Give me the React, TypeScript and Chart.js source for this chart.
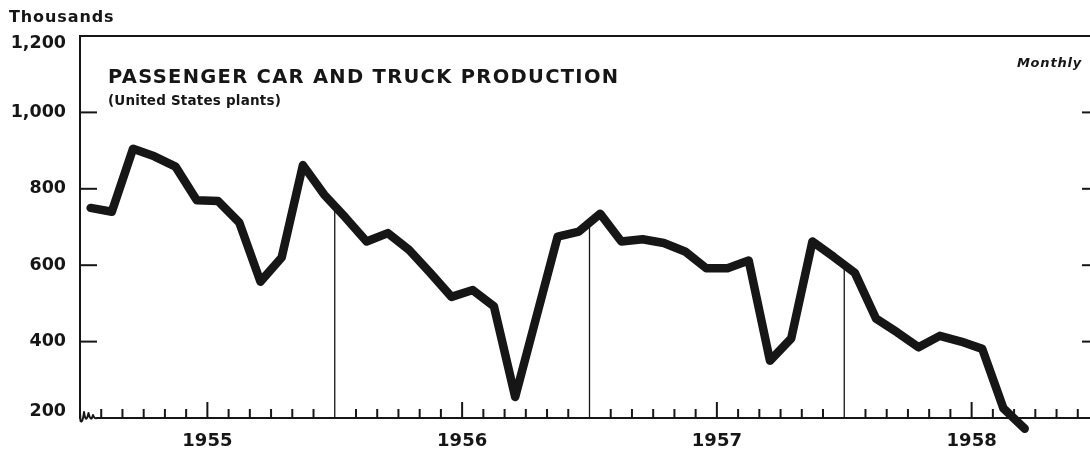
import React, { useEffect, useRef } from "react";
import { Chart, registerables } from "chart.js";

Chart.register(...registerables);

// ---- data (thousands of units, monthly, U.S. plants) ----
const years = ["1955", "1956", "1957", "1958"];
const values1955 = [750, 740, 905, 885, 858, 770, 768, 712, 557, 620, 862, 785];
const values1956 = [725, 662, 684, 640, 580, 517, 535, 492, 255, 465, 675, 688];
const values1957 = [735, 662, 668, 658, 636, 592, 592, 612, 350, 408, 662, 622];
const values1958 = [580, 460, 424, 385, 415, 400, 381, 225, 172];
const yTickValues = [200, 400, 600, 800, 1000, 1200];
const yTickLabels = ["200", "400", "600", "800", "1,000", "1,200"];
const innerTickValues = [400, 600, 800, 1000];
const monthsPerYear = 12;

const INK = "#161616";
const FONT = "'DejaVu Sans', sans-serif";

const series = [...values1955, ...values1956, ...values1957, ...values1958];
const points = series.map((v, i) => ({ x: i + 0.5, y: v }));
const totalMonths = years.length * monthsPerYear;

const decorPlugin = {
  id: "decor",
  beforeDatasetsDraw(chart: any) {
    const { ctx, chartArea: a, scales } = chart;
    const xs = scales.x;
    const ys = scales.y;
    const seg = (x1: number, y1: number, x2: number, y2: number) => {
      ctx.beginPath();
      ctx.moveTo(x1, y1);
      ctx.lineTo(x2, y2);
      ctx.stroke();
    };
    ctx.save();
    ctx.strokeStyle = INK;
    ctx.lineCap = "butt";
    ctx.lineWidth = 2;
    // top frame line
    seg(a.left - 1, a.top, a.right, a.top);
    // baseline (after the scale break)
    seg(a.left + 16, a.bottom, a.right, a.bottom);
    // scale-break squiggle
    ctx.lineJoin = "round";
    ctx.lineCap = "round";
    ctx.beginPath();
    ctx.moveTo(a.left, a.bottom - 6);
    ctx.lineTo(a.left + 0.5, a.bottom + 3);
    ctx.quadraticCurveTo(a.left + 2.5, a.bottom + 6, a.left + 4, a.bottom - 6);
    ctx.quadraticCurveTo(a.left + 6, a.bottom + 7, a.left + 8.5, a.bottom - 5);
    ctx.quadraticCurveTo(a.left + 11, a.bottom + 5, a.left + 13, a.bottom - 3);
    ctx.quadraticCurveTo(a.left + 14.5, a.bottom + 1, a.left + 16.5, a.bottom);
    ctx.stroke();
    ctx.lineCap = "butt";
    // month ticks
    for (let k = 1; k < totalMonths; k++) {
      if (k % monthsPerYear === 0) continue;
      const x = xs.getPixelForValue(k);
      const h = k % monthsPerYear === 6 ? 16 : 9;
      seg(x, a.bottom, x, a.bottom - h);
    }
    // inner y ticks on both sides
    for (const v of innerTickValues) {
      const y = ys.getPixelForValue(v);
      seg(a.left, y, a.left + 17, y);
      seg(a.right - 17, y, a.right, y);
    }
    // year-end lines up to the curve
    const meta = chart.getDatasetMeta(0);
    ctx.lineWidth = 1.3;
    for (let k = monthsPerYear; k < series.length; k += monthsPerYear) {
      const p0 = meta.data[k - 1];
      const p1 = meta.data[k];
      if (!p0 || !p1) continue;
      const x = xs.getPixelForValue(k);
      const t = (x - p0.x) / (p1.x - p0.x);
      const y = p0.y + t * (p1.y - p0.y);
      seg(x, a.bottom, x, y);
    }
    ctx.restore();
  },
};

export default function App() {
  const ref = useRef<HTMLCanvasElement | null>(null);

  useEffect(() => {
    if (!ref.current) return;
    const chart = new Chart(ref.current, {
      type: "line",
      data: {
        datasets: [
          {
            data: points,
            borderColor: INK,
            borderWidth: 8.5,
            borderJoinStyle: "round",
            borderCapStyle: "round",
            pointRadius: 0,
            tension: 0,
            clip: false,
            fill: false,
          },
        ],
      },
      options: {
        animation: false,
        responsive: false,
        devicePixelRatio: 1,
        layout: { padding: { top: 36, right: 11, bottom: 0, left: 0 } },
        plugins: { legend: { display: false }, tooltip: { enabled: false }, title: { display: false } },
        scales: {
          x: {
            type: "linear",
            min: 0,
            max: totalMonths,
            grid: { display: false, drawTicks: false },
            border: { display: false },
            afterBuildTicks: (s: any) => {
              s.ticks = years.map((_, i) => ({ value: i * monthsPerYear + 6 }));
            },
            afterFit: (s: any) => {
              s.height = 36;
            },
            ticks: {
              autoSkip: false,
              maxRotation: 0,
              padding: 13,
              color: INK,
              font: { family: FONT, size: 18, weight: "bold" },
              callback: (_v: any, i: number) => years[i],
            },
          },
          y: {
            min: 200,
            max: 1200,
            grid: { display: false, drawTicks: false },
            border: { display: true, color: INK, width: 2 },
            afterBuildTicks: (s: any) => {
              s.ticks = yTickValues.map((v) => ({ value: v }));
            },
            afterFit: (s: any) => {
              s.width = 80;
            },
            ticks: {
              padding: 14,
              color: INK,
              font: { family: FONT, size: 17.5, weight: "bold", lineHeight: "14px" },
              callback: (v: any, i: number) => {
                const lbl = yTickLabels[i];
                if (v === 1200) return ["", lbl];
                if (v === 200) return [lbl, ""];
                return lbl;
              },
            },
          },
        },
      },
      plugins: [decorPlugin],
    } as any);
    return () => chart.destroy();
  }, []);

  const txt: React.CSSProperties = {
    position: "absolute",
    fontFamily: FONT,
    fontWeight: "bold",
    color: INK,
    whiteSpace: "nowrap",
    margin: 0,
  };

  return (
    <div
      style={{
        position: "fixed",
        left: 0,
        top: 0,
        width: 1090,
        height: 454,
        overflow: "hidden",
        background: "#fff",
      }}
    >
      <canvas ref={ref} width={1110} height={454} style={{ position: "absolute", left: 0, top: 0, width: 1110, height: 454 }} />
      <div style={{ ...txt, left: 9, top: 9, fontSize: 16, lineHeight: "16px", letterSpacing: "0.9px" }}>Thousands</div>
      <div style={{ ...txt, left: 108, top: 67, fontSize: 19.5, lineHeight: "19.5px", letterSpacing: "1.3px" }}>
        PASSENGER CAR AND TRUCK PRODUCTION
      </div>
      <div style={{ ...txt, left: 108, top: 94, fontSize: 13.5, lineHeight: "13.5px", letterSpacing: "0.2px" }}>
        (United States plants)
      </div>
      <div style={{ ...txt, right: 8, top: 56, fontSize: 13, lineHeight: "13px", fontStyle: "italic", letterSpacing: "0.8px" }}>
        Monthly
      </div>
    </div>
  );
}
